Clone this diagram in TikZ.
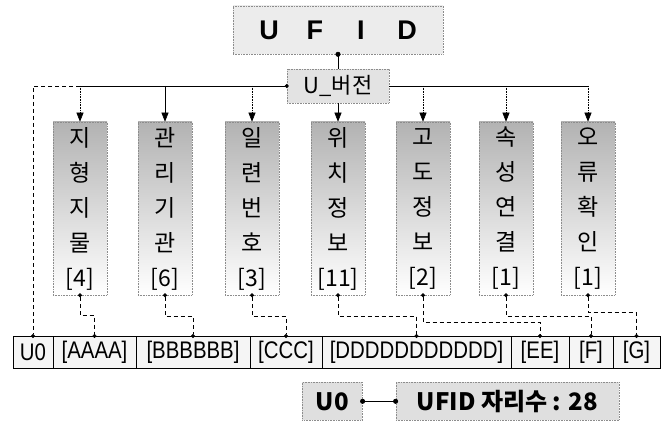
\documentclass[tikz,border=0pt]{standalone}
\usepackage{fontspec}
\usepackage{xcolor}
\usepackage{tikz}
\usetikzlibrary{positioning,shapes,arrows.meta,calc}
\newfontfamily\kofont{Noto Sans CJK KR}
\newfontfamily\cellfont[FakeStretch=0.85]{Liberation Sans}
\newfontfamily\headfont{Liberation Sans}
\definecolor{boxgray}{gray}{0.55}
\tikzstyle{head}=[%
      rectangle, draw=boxgray, densely dotted, top color=gray!15, middle color=gray!70, bottom color=gray!15,
      minimum width=210pt, minimum height=48pt, inner sep=0pt, font=\headfont\bfseries\fontsize{27}{27}\selectfont
]
\tikzstyle{ver}=[%
      rectangle, draw=boxgray, densely dotted, fill=gray!22,
      minimum width=102pt, minimum height=34pt, inner sep=0pt, font=\kofont\fontsize{22}{22}\selectfont
]
\tikzstyle{col}=[%
      rectangle, draw=boxgray, densely dotted, top color=gray!60, middle color=gray!30, bottom color=white,
      minimum width=54pt, minimum height=173pt, inner sep=0pt, align=center, font=\kofont\fontsize{23}{35}\selectfont
]
\tikzstyle{cell}=[%
      rectangle, draw=black, fill=gray!8, minimum height=32pt, inner sep=0pt, outer sep=0pt,
      font=\cellfont\fontsize{24}{24}\selectfont
]
\tikzstyle{legend}=[%
      rectangle, draw=boxgray, densely dotted, fill=gray!25, minimum height=38pt, inner sep=0pt,
      font=\kofont\bfseries\fontsize{24}{24}\selectfont
]
\tikzstyle{arr}=[densely dotted, -{Triangle[length=9pt,width=7pt]}]
\tikzstyle{link}=[dash pattern=on 4pt off 3pt, {Circle[length=4pt]}-{Circle[length=4pt]},
      shorten <=-2pt, shorten >=-2pt]

\begin{document}
\begin{tikzpicture}[x=1pt, y=-1pt, semithick]
    \useasboundingbox (0,0) rectangle (671,422);

    \node[head] (ufid) at (338,30)
      {\makebox[46pt]{U}\makebox[46pt]{F}\makebox[46pt]{I}\makebox[46pt]{D}};
    \node[ver]  (uver) at (338,86) {U\_버전};

    \node[col] (terrain)  at (80,208.5)  {지\\형\\지\\물\\{[4]}};
    \node[col] (agency)   at (165,208.5) {관\\리\\기\\관\\{[6]}};
    \node[col] (serial)   at (252,208.5) {일\\련\\번\\호\\{[3]}};
    \node[col] (position) at (338,208.5) {위\\치\\정\\보\\{[11]}};
    \node[col] (height)   at (423,208.5) {고\\도\\정\\보\\{[2]}};
    \node[col] (attr)     at (506,208.5) {속\\성\\연\\결\\{[1]}};
    \node[col] (check)    at (588,208.5) {오\\류\\확\\인\\{[1]}};

    % bottom code row
    \node[cell, minimum width=40pt, anchor=north west] (f0) at (13,336) {U0};
    \node[cell, minimum width=83pt,  right=0pt of f0] (fa) {[AAAA]};
    \node[cell, minimum width=114pt, right=0pt of fa] (fb) {[BBBBBB]};
    \node[cell, minimum width=72pt,  right=0pt of fb] (fc) {[CCC]};
    \node[cell, minimum width=189pt, right=0pt of fc] (fd) {[DDDDDDDDDDD]};
    \node[cell, minimum width=58pt,  right=0pt of fd] (fe) {[EE]};
    \node[cell, minimum width=44pt,  right=0pt of fe] (ff) {[F]};
    \node[cell, minimum width=47pt,  right=0pt of ff] (fg) {[G]};

    \node[legend, minimum width=60pt, anchor=north west] (u0) at (302,382) {U0};
    \node[legend, minimum width=223pt, right=33pt of u0] (len) {UFID 자리수 : 28};

    \draw[{Circle[length=5pt]}-, shorten <=-2.5pt] (ufid.south) -- (uver.north);
    \draw[{Circle[length=4pt]}-, shorten <=-2pt, thick] (uver.west) -- (uver.west -| terrain.north);
    \draw[thick] (uver.east) -- (uver.east -| check.north);
    \draw[dash pattern=on 4pt off 3pt, -{Circle[length=4pt]}, shorten >=-2pt]
      (uver.west -| terrain.north) -- (uver.west -| f0.north) -- (f0.north);

    \draw[arr] (uver.west -| terrain.north) -- (terrain.north);
    \draw[arr, solid] (uver.west -| agency.north) -- (agency.north);
    \draw[arr] (uver.west -| serial.north) -- (serial.north);
    \draw[arr, solid] (uver.south) -- (position.north);
    \draw[arr] (uver.east -| height.north) -- (height.north);
    \draw[arr] (uver.east -| attr.north) -- (attr.north);
    \draw[arr] (uver.east -| check.north) -- (check.north);

    \draw[link] (terrain.south)  -- ++(0,20) -| (fa.north);
    \draw[link] (agency.south)   -- ++(0,21) -| (fb.north);
    \draw[link] (serial.south)   -- ++(0,21) -| (fc.north);
    \draw[link] (position.south) -- ++(0,21) -| (fd.north);
    \draw[link] (height.south)   -- ++(0,27) -| (fe.north);
    \draw[link] (attr.south)     -- ++(0,21) -| (ff.north);
    \draw[link] (check.south)    -- ++(0,17) -| (fg.north);

    \draw[thick, {Circle[length=5pt]}-{Circle[length=5pt]}, shorten <=-2.5pt, shorten >=-2.5pt]
      (u0.east) -- (len.west);
\end{tikzpicture}
\end{document}
